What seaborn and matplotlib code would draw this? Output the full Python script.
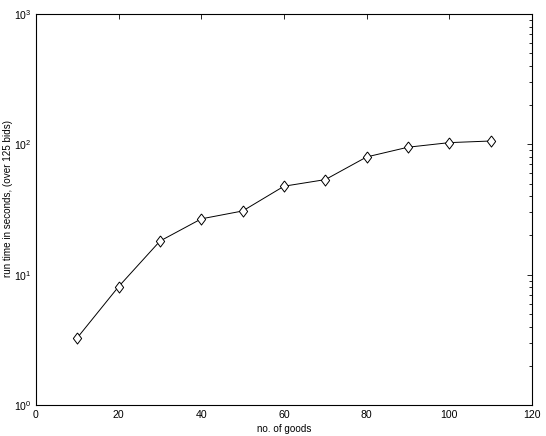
import matplotlib
matplotlib.use("Agg")
import matplotlib.pyplot as plt
import seaborn as sns
import pandas as pd
from matplotlib.ticker import LogLocator, NullFormatter

goods = [10, 20, 30, 40, 50, 60, 70, 80, 90, 100, 110]
run_time = [3.28, 8.1, 18.1, 26.8, 30.8, 47.7, 53.6, 80.0, 95.0, 103.0, 106.0]

sns.set_theme(style="white")
plt.rcParams['font.family'] = ['Liberation Sans', 'DejaVu Sans']
plt.rcParams['mathtext.fontset'] = 'custom'
plt.rcParams['mathtext.rm'] = 'Liberation Sans'
plt.rcParams['mathtext.it'] = 'Liberation Sans'
plt.rcParams['mathtext.default'] = 'regular'

df = pd.DataFrame({"goods": goods, "time": run_time})
diamond = [(0, 1), (0.75, 0), (0, -1), (-0.75, 0), (0, 1)]

fig = plt.figure(figsize=(5.46, 4.36), dpi=100)
ax = fig.add_axes([0.0659, 0.0711, 0.9085, 0.8969])
sns.lineplot(data=df, x="goods", y="time", ax=ax, color="black", linewidth=0.7,
             marker=diamond, markersize=8, markerfacecolor="white",
             markeredgecolor="black", markeredgewidth=0.7)
ax.set_yscale("log")
ax.set_xlim(0, 120)
ax.set_ylim(1, 1000)
ax.set_xticks(range(0, 121, 20))
ax.yaxis.set_major_locator(LogLocator(base=10))
ax.yaxis.set_minor_locator(LogLocator(base=10, subs=range(2, 10)))
ax.yaxis.set_minor_formatter(NullFormatter())
ax.tick_params(axis="both", which="both", direction="in", top=True, right=True,
               labelsize=7.6, color="black", labelcolor="black", pad=3.5)
ax.tick_params(which="major", length=3.8, width=0.6)
ax.tick_params(which="minor", length=2.2, width=0.6)
for s in ax.spines.values():
    s.set_color("black")
    s.set_linewidth(0.8)
ax.set_xlabel("no. of goods", fontsize=7.1, color="black", labelpad=3)
ax.set_ylabel("run time in seconds, (over 125 bids)", fontsize=7.1, color="black")
ax.yaxis.set_label_coords(-0.047, 0.528)
fig.savefig("out.png", dpi=100, facecolor="white")
